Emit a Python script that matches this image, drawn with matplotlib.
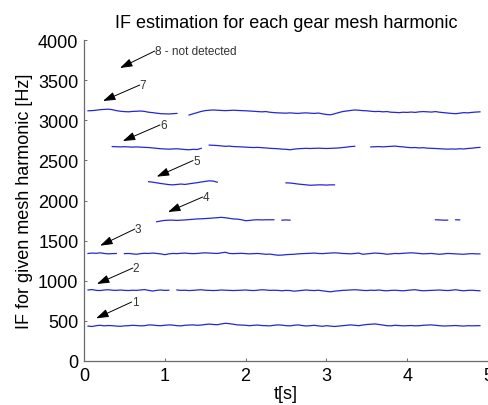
import numpy as np
import matplotlib
matplotlib.use("Agg")
import matplotlib.pyplot as plt

nan = np.nan

# common time grid (s)
t = [round(0.05 * k, 2) for k in range(1, 99)]

h1 = [435, 430, 440, 445, 438, 442, 440, 435, 432, 438,
      440, 445, 442, 438, 440, 450, 448, 442, 440, 445,
      450, 447, 440, 438, 445, 448, 450, 445, 448, 455,
      460, 455, 452, 462, 470, 465, 458, 450, 448, 445,
      440, 445, 448, 442, 440, 438, 445, 450, 447, 440,
      438, 445, 450, 442, 436, 440, 445, 438, 432, 440,
      435, 430, 435, 440, 445, 450, 445, 440, 448, 455,
      458, 462, 455, 448, 440, 438, 445, 442, 438, 440,
      442, 438, 440, 445, 448, 450, 445, 440, 436, 438,
      440, 442, 438, 435, 440, 438, 440, 440]

h2 = [885, 890, 880, 878, 885, 888, 882, 880, 885, 880,
      878, 882, 880, 885, 890, 880, 872, 880, 885, 880,
      882, nan, 885, 880, 882, 878, 880, 885, 888, 882,
      880, 878, 880, 885, 882, 880, 878, 880, 882, 885,
      880, 878, 882, 888, 885, 880, 882, 880, 875, 880,
      878, 870, 875, 880, 885, 880, 878, 882, 875, 868,
      862, 870, 875, 880, 882, 885, 888, 885, 880, 878,
      882, 880, 885, 878, 875, 880, 882, 878, 875, 880,
      885, 888, 880, 875, 878, 880, 882, 885, 880, 878,
      882, 888, 880, 875, 880, 882, 878, 875]

h3 = [1340, 1345, 1342, 1348, 1340, 1335, 1338, 1340, nan, 1338,
      1340, 1335, 1330, 1338, 1342, 1340, 1345, 1340, 1335, 1325,
      1335, 1340, 1338, 1342, 1345, 1340, 1338, 1340, 1345, 1348,
      1345, 1342, 1340, 1348, 1355, 1340, 1338, 1340, 1342, 1338,
      1335, 1338, 1340, 1335, 1330, 1332, 1325, 1318, 1320, 1325,
      1328, 1330, 1335, 1338, 1340, 1342, 1345, 1340, 1338, 1342,
      1345, 1348, 1345, 1340, 1338, 1335, 1340, 1345, 1330, 1335,
      1340, 1345, 1342, 1338, 1330, 1335, 1340, 1338, 1342, 1345,
      1348, 1345, 1340, 1335, 1338, 1340, 1335, 1330, 1335, 1340,
      1338, 1335, 1332, 1330, 1335, 1338, 1335, 1335]

h4 = [nan, nan, nan, nan, nan, nan, nan, nan, nan, nan,
      nan, nan, nan, nan, nan, nan, nan, 1735, 1745, 1752,
      1755, 1755, 1752, 1755, 1758, 1762, 1766, 1770, 1772, 1775,
      1778, 1782, 1786, 1790, 1785, 1778, 1770, 1768, 1760, 1748,
      1752, 1758, 1760, 1758, 1760, 1760, 1760, nan, 1755, 1758,
      1755, nan, nan, nan, nan, nan, nan, nan, nan, nan,
      nan, nan, nan, nan, nan, nan, nan, nan, nan, nan,
      nan, nan, nan, nan, nan, nan, nan, nan, nan, nan,
      nan, nan, nan, nan, nan, nan, 1760, 1758, 1755, 1755,
      nan, 1760, 1758, nan, nan, nan, nan, nan]

h5 = [nan, nan, nan, nan, nan, nan, nan, nan, nan, nan,
      nan, nan, nan, nan, nan, 2235, 2228, 2220, 2212, 2205,
      2198, 2195, 2200, 2205, 2200, 2208, 2215, 2222, 2230, 2238,
      2245, 2242, 2228, nan, nan, nan, nan, nan, nan, nan,
      nan, nan, nan, nan, nan, nan, nan, nan, nan, 2220,
      2218, 2212, 2205, 2200, 2195, 2190, 2192, 2195, 2195, 2192,
      2195, 2195, nan, nan, nan, nan, nan, nan, nan, nan,
      nan, nan, nan, nan, nan, nan, nan, nan, nan, nan,
      nan, nan, nan, nan, nan, nan, nan, nan, nan, nan,
      nan, nan, nan, nan, nan, nan, nan, nan]

h6 = [nan, nan, nan, nan, nan, nan, 2672, 2670, 2668, 2670,
      2668, 2665, 2668, 2665, 2662, 2660, 2655, 2650, 2645, 2642,
      2640, 2642, 2645, 2640, 2635, 2632, 2638, 2635, 2650, nan,
      2690, 2688, 2685, 2680, 2675, 2678, 2672, 2670, 2668, 2665,
      2662, 2660, 2662, 2658, 2655, 2650, 2648, 2645, 2640, 2638,
      2632, 2640, 2645, 2648, 2650, 2648, 2650, 2652, 2650, 2648,
      2650, 2652, 2655, 2660, 2665, 2672, 2675, nan, nan, nan,
      2668, 2670, 2672, 2668, 2672, 2675, 2678, 2672, 2668, 2662,
      2658, 2660, 2655, 2658, 2652, 2650, 2648, 2645, 2642, 2640,
      2642, 2640, 2645, 2642, 2648, 2652, 2658, 2662]

h7 = [3118, 3120, 3125, 3132, 3135, 3138, 3132, 3120, 3112, 3108,
      3105, 3110, 3112, 3115, 3110, 3100, 3095, 3088, 3082, 3080,
      3078, 3082, 3085, nan, nan, 3065, 3080, 3095, 3110, 3120,
      3125, 3128, 3125, 3122, 3120, 3122, 3125, 3122, 3120, 3118,
      3115, 3112, 3108, 3105, 3108, 3100, 3095, 3092, 3090, 3088,
      3092, 3088, 3085, 3090, 3092, 3088, 3085, 3090, 3080, 3072,
      3068, 3080, 3095, 3108, 3115, 3122, 3128, 3125, 3120, 3118,
      3112, 3108, 3110, 3105, 3108, 3100, 3098, 3095, 3100, 3098,
      3102, 3098, 3105, 3108, 3105, 3102, 3108, 3100, 3095, 3090,
      3085, 3082, 3088, 3095, 3092, 3098, 3102, 3105]

harmonics = [h1, h2, h3, h4, h5, h6, h7]

# annotations: label, arrow tip (t, f), text anchor (t, f)
ann_labels = ["1", "2", "3", "4", "5", "6", "7", "8 - not detected"]
ann_tip_t = [0.15, 0.16, 0.20, 1.04, 0.90, 0.48, 0.235, 0.445]
ann_tip_f = [532, 960, 1437, 1857, 2297, 2741, 3240, 3651]
ann_txt_t = [0.59, 0.605, 0.63, 1.47, 1.35, 0.94, 0.69, 0.877]
ann_txt_f = [735, 1159, 1645, 2044, 2498, 2941, 3439, 3863]

xticks = [0, 1, 2, 3, 4, 5]
yticks = [0, 500, 1000, 1500, 2000, 2500, 3000, 3500, 4000]

plt.rcParams['font.family'] = ['Liberation Sans', 'DejaVu Sans']

fig = plt.figure(figsize=(4.89, 4.06), dpi=100)
ax = fig.add_axes([84 / 489, 44 / 406, 404 / 489, 321 / 406])

for h in harmonics:
    ax.plot(t, h, color=(0.15, 0.15, 0.85), lw=0.9)

for lab, xt, ft, xs, fs in zip(ann_labels, ann_tip_t, ann_tip_f, ann_txt_t, ann_txt_f):
    ax.annotate(lab, xy=(xt, ft), xytext=(xs, fs), ha='left', va='center',
                fontsize=8.5, color='#333333',
                arrowprops=dict(arrowstyle='-|>,head_length=0.75,head_width=0.25',
                                mutation_scale=10, color='black', lw=0.7,
                                shrinkA=0, shrinkB=0, patchA=None,
                                relpos=(0.0, 0.5)))

ax.set_xlim(0, 5)
ax.set_ylim(0, 4000)
ax.set_xticks(xticks)
ax.set_yticks(yticks)
ax.spines['top'].set_visible(False)
ax.spines['right'].set_visible(False)
for s in ['left', 'bottom']:
    ax.spines[s].set_color('#6a6a6a')
    ax.spines[s].set_linewidth(0.9)
ax.tick_params(direction='in', length=2.5, width=0.7, color='#6a6a6a',
               labelsize=13, pad=4)

ax.set_title('IF estimation for each gear mesh harmonic', fontsize=13, pad=9)
ax.set_xlabel('t[s]', fontsize=13, labelpad=1)
ax.set_ylabel('IF for given mesh harmonic [Hz]', fontsize=13, labelpad=4)

fig.savefig('out.png', dpi=100)
